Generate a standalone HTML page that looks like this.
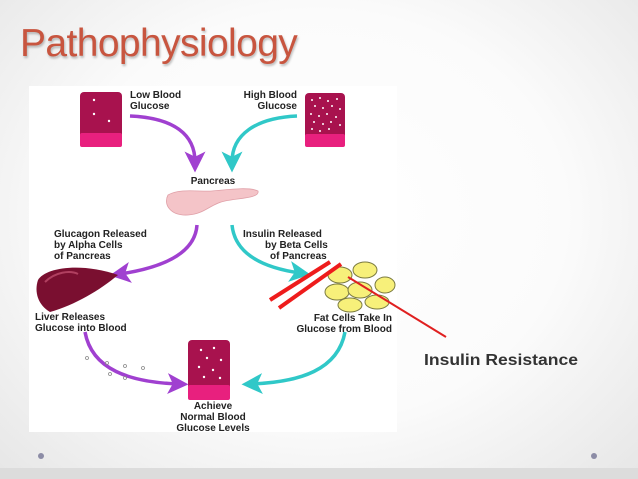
<!DOCTYPE html>
<html><head><meta charset="utf-8"><style>
html,body{margin:0;padding:0}
body{width:638px;height:479px;overflow:hidden;position:relative;background:radial-gradient(ellipse at 50% 45%,#ffffff 0%,#fbfbfb 55%,#e6e6e6 100%);font-family:"Liberation Sans",sans-serif}
.t{position:absolute;left:20px;top:22px;font-size:39px;color:#c8553f;text-shadow:1px 2px 2px rgba(0,0,0,0.25);letter-spacing:-0.6px}
.band{position:absolute;left:0;top:468px;width:638px;height:11px;background:#dcdcdc}
.dot{position:absolute;width:6px;height:6px;border-radius:50%;background:#8c8ca6}
</style></head><body>
<div class="t">Pathophysiology</div>
<div class="band"></div>
<div class="dot" style="left:38px;top:453px"></div>
<div class="dot" style="left:591px;top:453px"></div>
<svg width="638" height="479" style="position:absolute;left:0;top:0">
<defs>
<marker id="ap" markerWidth="6" markerHeight="6" refX="3" refY="3" orient="auto" markerUnits="strokeWidth"><path d="M0,0 L6,3 L0,6 L1.5,3Z" fill="#a040d0"/></marker>
<marker id="ac" markerWidth="6" markerHeight="6" refX="3" refY="3" orient="auto" markerUnits="strokeWidth"><path d="M0,0 L6,3 L0,6 L1.5,3Z" fill="#30c8c8"/></marker>
</defs>
<rect x="29" y="86" width="368" height="346" fill="#fff"/>
<g font-family="Liberation Sans" font-weight="bold" font-size="10" fill="#222">
<g>
<rect x="80" y="92" width="42" height="55" rx="4" fill="#a8124e"/>
<rect x="80" y="133" width="42" height="14" rx="2" fill="#e8207e"/>
<circle cx="94" cy="100" r="1.2" fill="#fff"/><circle cx="94" cy="114" r="1.2" fill="#fff"/><circle cx="109" cy="121" r="1.2" fill="#fff"/>
</g>
<g>
<rect x="305" y="93" width="40" height="54" rx="4" fill="#a8124e"/>
<rect x="305" y="134" width="40" height="13" rx="2" fill="#e8207e"/>
<g fill="#fff">
<circle cx="312" cy="100" r="1"/><circle cx="320" cy="98" r="1"/><circle cx="328" cy="101" r="1"/><circle cx="337" cy="99" r="1"/>
<circle cx="315" cy="106" r="1"/><circle cx="323" cy="108" r="1"/><circle cx="332" cy="106" r="1"/><circle cx="340" cy="109" r="1"/>
<circle cx="311" cy="114" r="1"/><circle cx="319" cy="116" r="1"/><circle cx="327" cy="114" r="1"/><circle cx="336" cy="117" r="1"/>
<circle cx="314" cy="122" r="1"/><circle cx="323" cy="124" r="1"/><circle cx="331" cy="122" r="1"/><circle cx="340" cy="125" r="1"/>
<circle cx="312" cy="129" r="1"/><circle cx="320" cy="131" r="1"/><circle cx="329" cy="129" r="1"/>
</g></g>
<g>
<rect x="188" y="340" width="42" height="60" rx="4" fill="#a8124e"/>
<rect x="188" y="385" width="42" height="15" rx="2" fill="#e8207e"/>
<g fill="#fff"><circle cx="201" cy="350" r="1.2"/><circle cx="214" cy="348" r="1.2"/><circle cx="207" cy="358" r="1.2"/><circle cx="221" cy="360" r="1.2"/><circle cx="199" cy="367" r="1.2"/><circle cx="213" cy="370" r="1.2"/><circle cx="204" cy="377" r="1.2"/><circle cx="220" cy="378" r="1.2"/></g>
</g>
<text x="130" y="98">Low Blood</text><text x="130" y="109">Glucose</text>
<text x="297" y="98" text-anchor="end">High Blood</text><text x="297" y="109" text-anchor="end">Glucose</text>
<g fill="none" stroke-width="3.5">
<path d="M130,116 C175,118 195,135 195,162" stroke="#a040d0" marker-end="url(#ap)"/>
<path d="M297,116 C255,118 232,135 232,162" stroke="#30c8c8" marker-end="url(#ac)"/>
<path d="M197,225 C195,255 160,268 120,274" stroke="#a040d0" marker-end="url(#ap)"/>
<path d="M232,225 C235,255 265,268 300,273" stroke="#30c8c8" marker-end="url(#ac)"/>
<path d="M85,332 C92,370 130,382 178,384" stroke="#a040d0" marker-end="url(#ap)"/>
<path d="M345,332 C338,370 300,382 252,384" stroke="#30c8c8" marker-end="url(#ac)"/>
</g>
<text x="213" y="184" text-anchor="middle">Pancreas</text>
<path d="M168,195 C180,188 200,192 212,191 C232,189 250,187 258,191 C260,198 240,198 225,201 C210,204 205,214 188,215 C170,216 163,204 168,195Z" fill="#f4c4c8" stroke="#e0a0a8" stroke-width="0.8"/>
<text x="54" y="237">Glucagon Released</text><text x="54" y="248">by Alpha Cells</text><text x="54" y="259">of Pancreas</text>
<text x="243" y="237">Insulin Released</text><text x="265" y="248">by Beta Cells</text><text x="270" y="259">of Pancreas</text>
<path d="M38,280 C45,268 80,262 118,275 C100,290 75,305 50,312 C38,305 34,292 38,280Z" fill="#7a0f30"/>
<path d="M45,282 C55,272 70,270 78,274" stroke="#b04060" stroke-width="2" fill="none"/>
<text x="35" y="320">Liver Releases</text><text x="35" y="331">Glucose into Blood</text>
<g fill="#f7f07a" stroke="#7a7a40" stroke-width="1">
<ellipse cx="340" cy="275" rx="12" ry="8"/><ellipse cx="365" cy="270" rx="12" ry="8"/><ellipse cx="385" cy="285" rx="10" ry="8"/>
<ellipse cx="337" cy="292" rx="12" ry="8"/><ellipse cx="360" cy="290" rx="12" ry="8"/><ellipse cx="350" cy="305" rx="12" ry="7"/><ellipse cx="377" cy="302" rx="12" ry="7"/>
</g>
<text x="392" y="321" text-anchor="end">Fat Cells Take In</text><text x="392" y="332" text-anchor="end">Glucose from Blood</text>
<g fill="none" stroke="#888" stroke-width="0.8"><circle cx="87" cy="358" r="1.5"/><circle cx="107" cy="363" r="1.5"/><circle cx="125" cy="366" r="1.5"/><circle cx="143" cy="368" r="1.5"/><circle cx="110" cy="374" r="1.5"/><circle cx="125" cy="378" r="1.5"/></g>
<text x="213" y="409" text-anchor="middle">Achieve</text><text x="213" y="420" text-anchor="middle">Normal Blood</text><text x="213" y="431" text-anchor="middle">Glucose Levels</text>
</g>
<g stroke="#ee1c1c" stroke-width="4"><line x1="270" y1="300" x2="330" y2="262"/><line x1="279" y1="308" x2="341" y2="264"/></g>
<line x1="348" y1="277" x2="446" y2="337" stroke="#e02020" stroke-width="2"/>
<text x="424" y="365" font-family="Liberation Sans" font-size="15.5" font-weight="bold" fill="#333" textLength="154" lengthAdjust="spacingAndGlyphs">Insulin Resistance</text>
</svg>
</body></html>
